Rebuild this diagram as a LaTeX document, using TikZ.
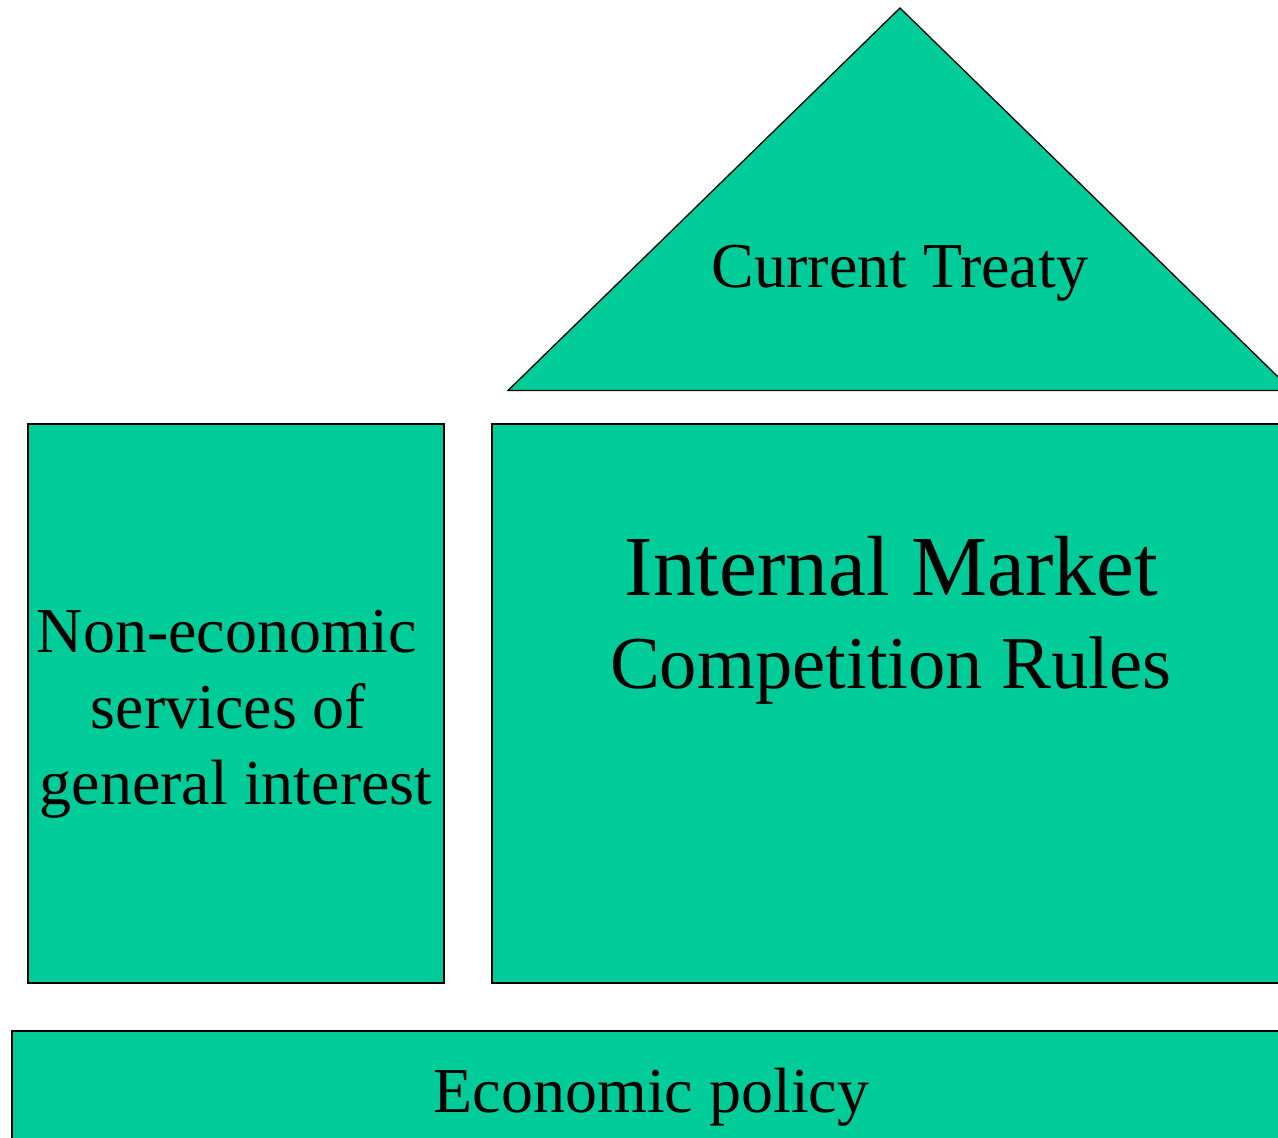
\documentclass[tikz,border=0pt]{standalone}
\usepackage{fontspec}
\setmainfont{Liberation Serif}
\definecolor{fillgreen}{HTML}{00CC99}
\begin{document}
\begin{tikzpicture}[x=1pt,y=-1pt,
  part/.style={fill=fillgreen,draw=black,line width=1.3pt,line join=miter},
  label/.style={anchor=base,inner sep=0pt,text=black}]
\useasboundingbox (0,0) rectangle (1278,1138);
\begin{scope}
\clip (0,0) rectangle (1278,1138);
\draw[part] (900,8) -- (508,390.5) -- (1292,390.5) -- cycle;
\draw[part] (28,424) rectangle (444,983);
\draw[part] (492,424) rectangle (1300,983);
\draw[part] (12,1031) rectangle (1300,1160);
\end{scope}
\node[label,font=\fontsize{64}{76}\selectfont] (treaty) at (900,287) {Current Treaty};
\node[label,font=\fontsize{64}{76}\selectfont] (l1) at (227,652) {Non-economic};
\node[label,font=\fontsize{64}{76}\selectfont] (l2) at (228.5,728) {services of};
\node[label,font=\fontsize{64}{76}\selectfont] (l3) at (236,804) {general interest};
\node[label,font=\fontsize{85.4}{93}\selectfont] (im) at (891.5,595) {Internal Market};
\node[label,font=\fontsize{74.6}{93}\selectfont] (cr) at (891,688) {Competition Rules};
\node[label,font=\fontsize{64}{76}\selectfont] (ep) at (651.5,1112) {Economic policy};
\end{tikzpicture}
\end{document}
